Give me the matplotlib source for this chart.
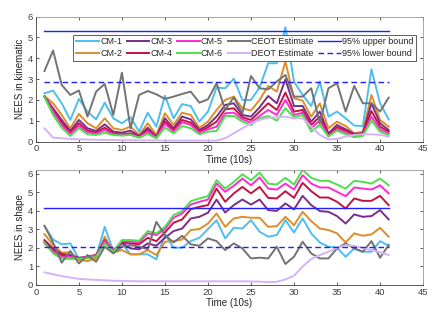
import numpy as np
import matplotlib
matplotlib.use("Agg")
import matplotlib.pyplot as plt

plt.rcParams["font.family"] = ["Liberation Sans", "DejaVu Sans"]

t = np.arange(1, 42)

# NEES in kinematic (top panel)
kin_cm1 = [2.32, 2.45, 1.84, 1.04, 2.05, 1.44, 1.07, 1.87, 1.12, 0.88, 1.17, 0.48, 1.39, 0.72,
           2.2, 1.12, 1.8, 1.71, 0.96, 1.44, 2.6, 2.56, 3.02, 2.0, 2.0, 2.6, 3.76, 3.76, 5.49,
           2.88, 2.24, 1.71, 2.88, 1.2, 1.44, 1.12, 0.77, 0.75, 3.47, 1.84, 1.07]
kin_cm2 = [2.19, 1.84, 1.28, 0.64, 1.33, 0.88, 0.64, 1.12, 0.64, 0.56, 0.72, 0.32, 0.88, 0.32,
           1.36, 0.8, 1.39, 1.28, 0.67, 0.96, 1.52, 2.0, 2.16, 1.6, 1.49, 2.0, 2.67, 2.4, 3.84,
           2.08, 1.97, 1.2, 1.84, 0.64, 0.96, 0.75, 0.4, 0.48, 2.24, 1.04, 0.72]
kin_cm3 = [2.16, 1.6, 1.04, 0.51, 1.04, 0.64, 0.51, 0.83, 0.48, 0.43, 0.53, 0.27, 0.67, 0.24,
           1.12, 0.64, 1.2, 1.07, 0.56, 0.8, 1.2, 1.76, 1.84, 1.28, 1.2, 1.65, 2.19, 1.84, 2.99,
           1.71, 1.71, 0.96, 1.44, 0.4, 0.8, 0.59, 0.37, 0.4, 1.84, 0.88, 0.56]
kin_cm4 = [2.16, 1.52, 0.91, 0.43, 0.88, 0.53, 0.43, 0.67, 0.4, 0.35, 0.4, 0.24, 0.56, 0.21,
           0.96, 0.56, 1.04, 0.91, 0.48, 0.69, 0.96, 1.55, 1.6, 1.17, 1.04, 1.44, 1.84, 1.52, 2.35,
           1.44, 1.52, 0.8, 1.2, 0.32, 0.69, 0.53, 0.32, 0.37, 1.47, 0.72, 0.48]
kin_cm5 = [2.16, 1.44, 0.8, 0.37, 0.75, 0.45, 0.37, 0.56, 0.35, 0.32, 0.35, 0.21, 0.48, 0.19,
           0.85, 0.48, 0.93, 0.8, 0.43, 0.59, 0.72, 1.36, 1.39, 1.07, 0.91, 1.23, 1.52, 1.28, 2.0,
           1.28, 1.39, 0.64, 1.01, 0.27, 0.59, 0.43, 0.27, 0.32, 1.2, 0.59, 0.4]
kin_cm6 = [2.13, 1.28, 0.67, 0.27, 0.64, 0.35, 0.32, 0.43, 0.32, 0.29, 0.32, 0.19, 0.37, 0.16,
           0.67, 0.4, 0.75, 0.64, 0.35, 0.48, 0.51, 1.23, 1.23, 0.96, 0.8, 1.12, 1.23, 1.01, 1.6,
           1.17, 1.28, 0.48, 0.8, 0.24, 0.53, 0.35, 0.21, 0.27, 1.01, 0.48, 0.32]
kin_ceot = [3.39, 4.37, 2.72, 2.24, 2.45, 1.2, 2.4, 2.77, 1.28, 3.31, 0.64, 2.24, 2.43, 2.27,
            2.05, 2.16, 2.29, 2.4, 1.87, 2.03, 2.8, 1.52, 2.13, 1.36, 3.15, 2.56, 2.51, 2.88, 3.2,
            2.16, 2.16, 2.56, 0.88, 2.56, 2.8, 1.44, 2.67, 1.84, 1.84, 1.44, 2.11]
kin_deot = [0.64, 0.19, 0.16, 0.13, 0.11, 0.1, 0.09, 0.08, 0.08, 0.07, 0.07, 0.06, 0.06, 0.06,
            0.05, 0.05, 0.05, 0.05, 0.05, 0.05, 0.05, 0.16, 0.4, 0.64, 0.88, 1.04, 1.15, 1.17, 1.2,
            1.12, 1.12, 0.72, 0.32, 0.11, 0.13, 0.24, 0.32, 0.35, 0.35, 0.33, 0.24]
kin_upper = 5.33
kin_lower = 2.85

# NEES in shape (bottom panel)
shp_cm1 = [3.17, 2.45, 2.19, 2.24, 1.4, 1.47, 1.52, 3.13, 1.83, 2.24, 1.65, 1.65, 1.65, 1.38,
           2.72, 2.01, 2.01, 2.36, 2.54, 3.01, 3.49, 2.51, 3.08, 3.04, 3.49, 2.87, 2.6, 2.69, 3.49,
           2.83, 3.58, 2.78, 2.29, 2.06, 2.01, 1.52, 1.97, 1.79, 1.79, 2.36, 2.11]
shp_cm2 = [2.74, 2.15, 1.74, 1.76, 1.34, 1.29, 1.43, 2.6, 1.76, 1.88, 1.65, 1.65, 1.88, 1.61,
           2.33, 2.36, 2.45, 2.96, 3.01, 3.31, 3.85, 3.13, 3.58, 3.67, 3.62, 3.62, 3.13, 3.17, 3.67,
           3.22, 3.94, 3.44, 3.04, 2.96, 2.78, 2.29, 2.78, 2.65, 2.72, 3.08, 2.6]
shp_cm3 = [2.42, 1.97, 1.67, 1.61, 1.47, 1.52, 1.61, 2.42, 1.79, 2.27, 1.97, 1.92, 2.24, 2.11,
           2.54, 2.9, 3.04, 3.58, 3.67, 3.89, 4.6, 3.9, 4.3, 4.6, 4.33, 4.6, 4.03, 3.99, 4.39,
           4.07, 4.8, 4.3, 3.98, 3.94, 3.71, 3.31, 3.8, 3.67, 3.71, 4.03, 3.53]
shp_cm4 = [2.36, 1.88, 1.61, 1.58, 1.43, 1.52, 1.61, 2.36, 1.88, 2.29, 2.24, 2.19, 2.54, 2.36,
           2.83, 3.35, 3.53, 4.08, 4.21, 4.3, 5.19, 4.48, 4.93, 5.28, 4.93, 5.28, 4.69, 4.66, 5.05,
           4.69, 5.5, 5.05, 4.71, 4.71, 4.48, 4.12, 4.66, 4.53, 4.53, 4.8, 4.3]
shp_cm5 = [2.24, 1.79, 1.52, 1.52, 1.43, 1.52, 1.58, 2.36, 1.83, 2.36, 2.33, 2.29, 2.78, 2.69,
           3.01, 3.62, 3.85, 4.33, 4.48, 4.6, 5.46, 5.02, 5.34, 5.73, 5.37, 5.79, 5.19, 5.14, 5.46,
           5.14, 5.91, 5.46, 5.25, 5.25, 5.02, 4.78, 5.25, 5.19, 5.14, 5.37, 4.93]
shp_cm6 = [2.29, 1.7, 1.43, 1.4, 1.4, 1.43, 1.52, 2.24, 1.79, 2.42, 2.42, 2.38, 2.9, 2.78,
           3.13, 3.76, 3.98, 4.51, 4.66, 4.78, 5.64, 5.19, 5.55, 5.96, 5.64, 6.05, 5.46, 5.41, 5.77,
           5.41, 6.2, 5.77, 5.61, 5.61, 5.41, 5.19, 5.61, 5.55, 5.46, 5.73, 5.37]
shp_ceot = [3.19, 2.29, 1.2, 1.83, 1.16, 1.61, 1.25, 2.06, 1.7, 2.06, 2.15, 2.06, 1.93, 3.4,
            2.69, 2.29, 2.65, 2.19, 2.11, 2.51, 2.36, 1.88, 2.24, 1.97, 1.43, 1.47, 1.43, 2.06, 1.13,
            1.52, 2.33, 1.7, 1.43, 1.43, 1.97, 2.24, 1.97, 1.79, 2.36, 1.47, 2.15]
shp_deot = [0.68, 0.58, 0.48, 0.4, 0.33, 0.3, 0.27, 0.25, 0.23, 0.22, 0.21, 0.2, 0.2, 0.2,
            0.2, 0.2, 0.2, 0.2, 0.2, 0.2, 0.2, 0.2, 0.2, 0.2, 0.19, 0.18, 0.15, 0.17, 0.3,
            0.5, 0.99, 1.4, 1.61, 1.79, 2.0, 2.15, 2.1, 2.0, 1.88, 1.76, 1.61]
shp_upper = 4.17
shp_lower = 2.02

labels = ["CM-1", "CM-2", "CM-3", "CM-4", "CM-5", "CM-6", "CEOT Estimate", "DEOT Estimate"]
colors = ["#4DBEEE", "#DE8D2A", "#7B2D8B", "#C2143E", "#FF2BD2", "#4CE04C", "#737373", "#D6B3F5"]
bound_color = "#1F1FFF"


def style_axes(ax, ylim, ylabel):
    ax.set_xlim(0, 45)
    ax.set_ylim(*ylim)
    ax.set_xticks(range(0, 46, 5))
    ax.set_yticks(range(0, 7))
    ax.tick_params(direction="in", length=2.5, width=0.6, labelsize=6.8,
                   colors="#404040", top=True, right=True, pad=2)
    for side in ["left", "bottom"]:
        ax.spines[side].set_color("#404040")
    for side in ["top", "right"]:
        ax.spines[side].set_color("#999999")
    for s in ax.spines.values():
        s.set_linewidth(0.6)
    ax.set_xlabel("Time (10s)", fontsize=7, color="#262626", labelpad=1)
    ax.set_ylabel(ylabel, fontsize=7, color="#262626", labelpad=2)


fig = plt.figure(figsize=(4.43, 3.19), dpi=100)
ax1 = fig.add_axes([0.081, 0.556, 0.874, 0.392])
ax2 = fig.add_axes([0.081, 0.1066, 0.874, 0.361])

kin = [kin_cm1, kin_cm2, kin_cm3, kin_cm4, kin_cm5, kin_cm6, kin_ceot, kin_deot]
shp = [shp_cm1, shp_cm2, shp_cm3, shp_cm4, shp_cm5, shp_cm6, shp_ceot, shp_deot]

lw = 1.4
for ax, series, up, lo in [(ax1, kin, kin_upper, kin_lower), (ax2, shp, shp_upper, shp_lower)]:
    for vals, lab, c in zip(series, labels, colors):
        ax.plot(t, vals, color=c, lw=lw, label=lab)
    ax.plot([t[0], t[-1]], [up, up], color=bound_color, lw=1.0, label="95% upper bound")
    ax.plot([t[0], t[-1]], [lo, lo], color=bound_color, lw=1.0, ls=(0, (4, 2.5)),
            label="95% lower bound")

style_axes(ax1, (0, 6), "NEES in kinematic")
style_axes(ax2, (0, 6.2), "NEES in shape")

leg = ax1.legend(ncol=5, loc="upper right", bbox_to_anchor=(0.983, 0.855),
                 borderaxespad=0, fontsize=6.5, handlelength=2.5, handletextpad=0.15,
                 columnspacing=0.5, labelspacing=0.3, borderpad=0.3,
                 fancybox=False, framealpha=1, edgecolor="#444444")
leg.get_frame().set_linewidth(0.6)
for txt in leg.get_texts():
    txt.set_color("#262626")

fig.savefig("out.png", dpi=100)
